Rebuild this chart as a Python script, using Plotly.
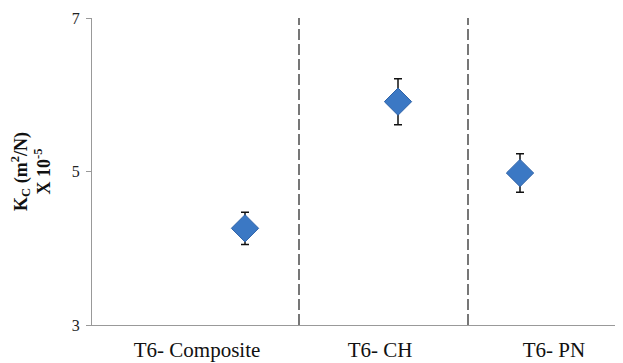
import plotly.graph_objects as go

# Data
categories = ["T6- Composite", "T6- CH", "T6- PN"]
label_pos = [1.05, 2.88, 4.62]          # category label centres on x
point_x = [1.53, 3.06, 4.28]            # marker x positions
kc_values = [4.26, 5.91, 4.98]          # Kc (x10^-5 m^2/N)
kc_errors = [0.21, 0.30, 0.25]
separators = [2.07, 3.76]               # dashed divider positions
y_ticks = [3, 5, 7]

serif = "Liberation Serif, Times New Roman, serif"

fig = go.Figure()
fig.add_trace(go.Scatter(
    x=point_x, y=kc_values, mode="markers",
    marker=dict(symbol="diamond", size=21, color="#3b78c4",
                line=dict(color="#2f63a8", width=1)),
    error_y=dict(type="data", array=kc_errors, color="#111111",
                 thickness=1.5, width=4),
    showlegend=False,
))

for s in separators:
    fig.add_shape(type="line", xref="x", yref="paper", x0=s, x1=s, y0=0, y1=1,
                  line=dict(color="#555555", width=1.6, dash="11px,4px"))

fig.update_layout(
    width=623, height=363,
    margin=dict(l=84, r=8, t=10, b=46),
    paper_bgcolor="white", plot_bgcolor="white",
    font=dict(family=serif, size=16, color="#222222"),
    xaxis=dict(range=[0, 5.31], showgrid=False, zeroline=False, automargin=False,
               showline=True, linecolor="#999999", linewidth=1,
               tickvals=label_pos, ticktext=categories, ticks="",
               ticklabelstandoff=6,
               tickfont=dict(size=21, family=serif, color="#111111")),
    yaxis=dict(range=[3, 7], tickvals=y_ticks, showgrid=False, zeroline=False,
               automargin=False,
               showline=True, linecolor="#999999", linewidth=1,
               ticks="outside", ticklen=5, tickcolor="#999999",
               ticklabelstandoff=3,
               tickfont=dict(size=16, family=serif, color="#222222"),
               title=dict(text="<b>K<sub>C</sub> (m<sup>2</sup>/N)<br>X 10<sup>-5</sup></b>",
                          font=dict(size=18, family=serif, color="#111111"),
                          standoff=16)),
)

fig.write_html("out.html")
